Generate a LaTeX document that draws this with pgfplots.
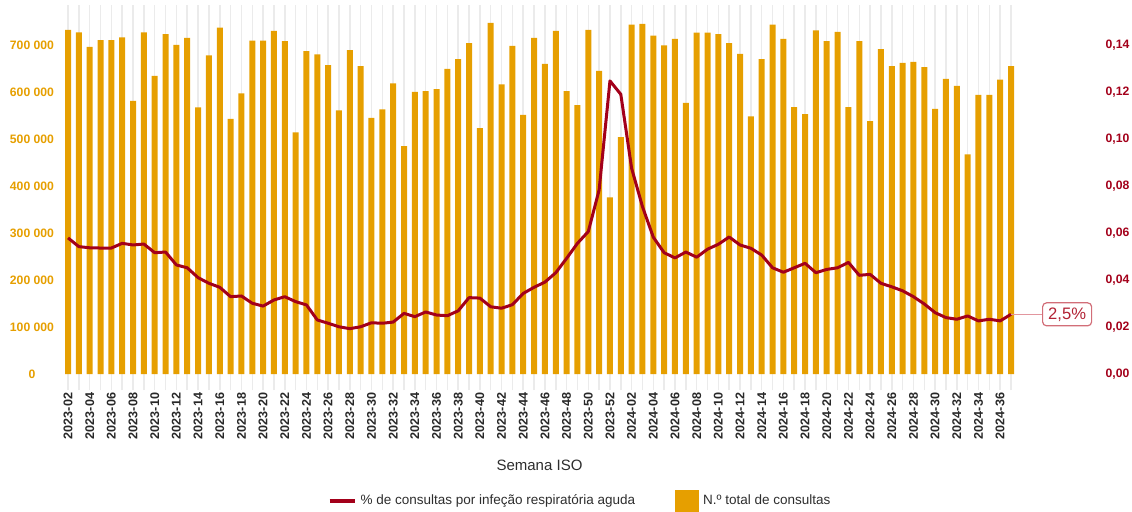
\documentclass[border=0pt]{standalone}
\usepackage{pgfplots}
\pgfplotsset{compat=1.18}
\usepackage{pgfplotstable}
\usepackage{fontspec}
\setmainfont{Liberation Sans}
\definecolor{barc}{RGB}{230,159,0}
\definecolor{linec}{RGB}{163,0,26}
\definecolor{gridc}{RGB}{235,235,235}
\definecolor{tickc}{RGB}{40,40,40}
\definecolor{textc}{RGB}{45,45,45}
\definecolor{pinkc}{RGB}{226,150,158}
\definecolor{boxc}{RGB}{210,110,120}
\definecolor{labc}{RGB}{178,34,52}

\pgfplotstableread{
idx val
0 732000
1 727000
2 696000
3 710000
4 710000
5 716000
6 581000
7 727000
8 634000
9 723000
10 700000
11 715000
12 567000
13 678000
14 737000
15 543000
16 597000
17 709000
18 709000
19 730000
20 708000
21 514000
22 687000
23 680000
24 657000
25 561000
26 689000
27 655000
28 545000
29 563000
30 618000
31 485000
32 600000
33 602000
34 606000
35 649000
36 670000
37 704000
38 523000
39 747000
40 616000
41 698000
42 551000
43 715000
44 660000
45 730000
46 602000
47 572000
48 732000
49 645000
50 376000
51 504000
52 743000
53 745000
54 720000
55 699000
56 713000
57 577000
58 726000
59 726000
60 723000
61 704000
62 681000
63 548000
64 670000
65 743000
66 713000
67 568000
68 553000
69 731000
70 708000
71 728000
72 568000
73 708000
74 538000
75 691000
76 655000
77 662000
78 664000
79 653000
80 564000
81 628000
82 613000
83 467000
84 594000
85 594000
86 626000
87 655000
}\bars

\pgfplotstableread{
idx val
0 0.0579
1 0.0542
2 0.0537
3 0.0536
4 0.0536
5 0.0556
6 0.0549
7 0.0553
8 0.0516
9 0.0519
10 0.0464
11 0.0452
12 0.0410
13 0.0386
14 0.0369
15 0.0329
16 0.0332
17 0.0301
18 0.0289
19 0.0315
20 0.0329
21 0.0308
22 0.0294
23 0.0230
24 0.0216
25 0.0201
26 0.0193
27 0.0201
28 0.0218
29 0.0216
30 0.0221
31 0.0258
32 0.0244
33 0.0264
34 0.0251
35 0.0248
36 0.0269
37 0.0325
38 0.0323
39 0.0286
40 0.0280
41 0.0295
42 0.0343
43 0.0369
44 0.0391
45 0.0431
46 0.0492
47 0.0556
48 0.0606
49 0.0783
50 0.1247
51 0.1190
52 0.0875
53 0.0712
54 0.0582
55 0.0516
56 0.0494
57 0.0519
58 0.0497
59 0.0531
60 0.0552
61 0.0583
62 0.0549
63 0.0535
64 0.0506
65 0.0452
66 0.0433
67 0.0452
68 0.0471
69 0.0431
70 0.0445
71 0.0452
72 0.0475
73 0.0420
74 0.0424
75 0.0386
76 0.0371
77 0.0354
78 0.0329
79 0.0298
80 0.0261
81 0.0240
82 0.0233
83 0.0247
84 0.0226
85 0.0233
86 0.0226
87 0.0254
}\lineT

\begin{document}
\begin{tikzpicture}
\begin{axis}[name=main,
  scale only axis, width=478pt, height=192.75pt,
  xmin=-0.6, xmax=87.6, ymin=-35000, ymax=785000,
  axis x line*=bottom, axis y line*=left,
  axis line style={draw=none},
  major tick length=0pt, minor tick length=0pt,
  xtick={0,2,...,86}, minor xtick={1,3,...,87},
  xticklabels={2023-02,2023-04,2023-06,2023-08,2023-10,2023-12,2023-14,2023-16,2023-18,2023-20,2023-22,2023-24,2023-26,2023-28,2023-30,2023-32,2023-34,2023-36,2023-38,2023-40,2023-42,2023-44,2023-46,2023-48,2023-50,2023-52,2024-02,2024-04,2024-06,2024-08,2024-10,2024-12,2024-14,2024-16,2024-18,2024-20,2024-22,2024-24,2024-26,2024-28,2024-30,2024-32,2024-34,2024-36},
  xmajorgrids, xminorgrids,
  major grid style={draw=gridc, line width=0.75pt},
  minor grid style={draw=gridc, line width=0.75pt},
  ytick={0,100000,200000,300000,400000,500000,600000,700000},
  yticklabels={0,100 000,200 000,300 000,400 000,500 000,600 000,700 000},
  scaled y ticks=false,
  yticklabel style={anchor=center, xshift=-14.75pt, font=\fontsize{6.1}{7}\selectfont\bfseries, text=barc},
  xticklabel style={rotate=90, anchor=east, inner sep=1pt, font=\fontsize{6.3}{7}\selectfont\bfseries, text=tickc},
  xlabel={Semana ISO},
  xlabel style={at={(axis description cs:0.5,-0.1933)}, anchor=center, font=\fontsize{7.5}{9}\selectfont, text=textc},
  clip=false]
\addplot[ybar, bar width=3pt, fill=barc, draw=none] table[x=idx,y=val]{\bars};
\end{axis}
\begin{axis}[
  scale only axis, width=478pt, height=192.75pt,
  xmin=-0.6, xmax=87.6, ymin=-0.007, ymax=0.157,
  axis x line=none, axis y line*=right,
  axis line style={draw=none},
  major tick length=0pt,
  ytick={0,0.02,0.04,0.06,0.08,0.10,0.12,0.14},
  yticklabels={{0,00},{0,02},{0,04},{0,06},{0,08},{0,10},{0,12},{0,14}},
  yticklabel style={anchor=center, xshift=50pt, font=\fontsize{6.1}{7}\selectfont\bfseries, text=linec},
  clip=false,
  legend style={draw=none, fill=none, legend columns=2, at={(0.5434,-0.2866)}, anchor=center,
    font=\fontsize{6.75}{8}\selectfont, text=textc, inner sep=0pt,
    /tikz/every even column/.append style={column sep=18pt}},
  legend cell align=left]
\addlegendimage{legend image code/.code={\draw[linec, line width=2pt] (0pt,0pt) -- (12.5pt,0pt);}}
\addlegendentry{\% de consultas por infeção respiratória aguda}
\addlegendimage{legend image code/.code={\fill[barc] (0pt,-5.5pt) rectangle (11.5pt,5.5pt);}}
\addlegendentry{N.º total de consultas}
\addplot[forget plot, linec, line width=1.5pt, line join=round] table[x=idx,y=val]{\lineT};
\draw[pinkc, line width=0.6pt] (axis cs:87,0.0254) -- ++(15.5pt,0pt)
  node[anchor=west, draw=boxc, rounded corners=2pt, line width=0.6pt, text=labc,
       font=\fontsize{8.3}{10}\selectfont, fill=white, inner xsep=2.8pt, inner ysep=0pt,
       minimum height=11.5pt]{2,5\%};
\end{axis}
\pgfresetboundingbox
\path ([xshift=-30.75pt,yshift=-60.75pt]main.south west) rectangle ([xshift=57.25pt,yshift=2.5pt]main.north east);
\end{tikzpicture}
\end{document}
